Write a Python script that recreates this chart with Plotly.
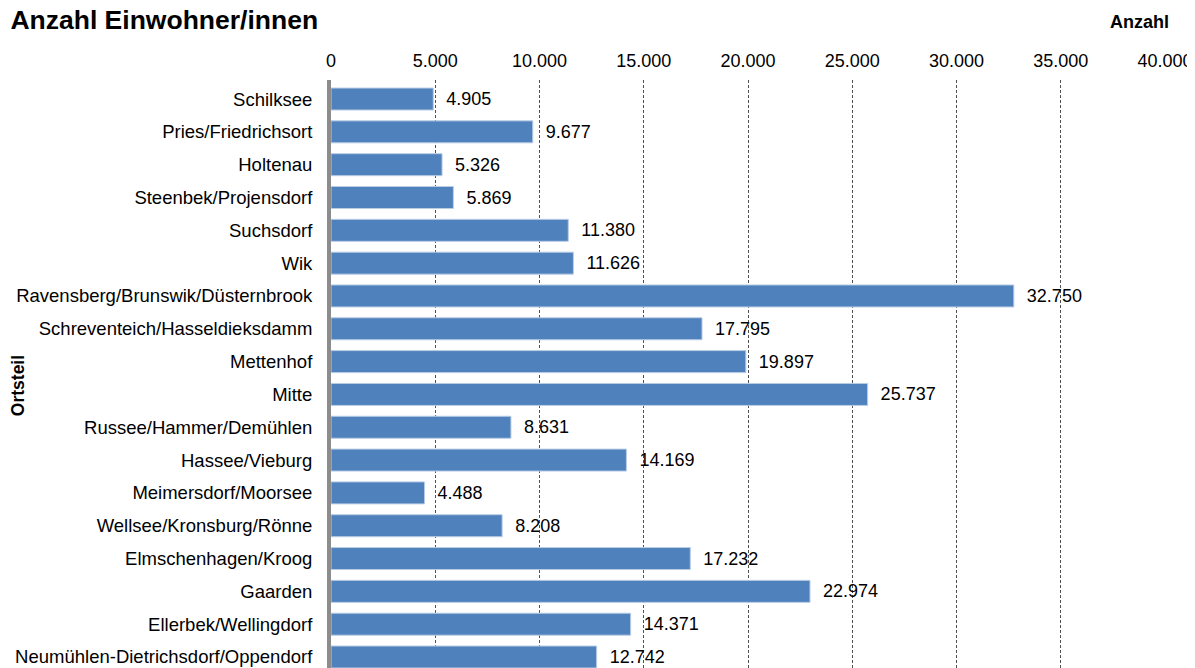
import plotly.graph_objects as go

ortsteile = [
    "Schilksee", "Pries/Friedrichsort", "Holtenau", "Steenbek/Projensdorf",
    "Suchsdorf", "Wik", "Ravensberg/Brunswik/Düsternbrook",
    "Schreventeich/Hasseldieksdamm", "Mettenhof", "Mitte",
    "Russee/Hammer/Demühlen", "Hassee/Vieburg", "Meimersdorf/Moorsee",
    "Wellsee/Kronsburg/Rönne", "Elmschenhagen/Kroog", "Gaarden",
    "Ellerbek/Wellingdorf", "Neumühlen-Dietrichsdorf/Oppendorf",
]
einwohner = [
    4905, 9677, 5326, 5869, 11380, 11626, 32750, 17795, 19897, 25737,
    8631, 14169, 4488, 8208, 17232, 22974, 14371, 12742,
]
x_ticks = [0, 5000, 10000, 15000, 20000, 25000, 30000, 35000, 40000]

FONT = "Liberation Sans, Arial, sans-serif"

fig = go.Figure()

fig.add_trace(go.Bar(
    x=einwohner, y=ortsteile,
    orientation="h",
    marker=dict(color="#4f81bd", line=dict(color="#b9cde5", width=1)),
    texttemplate="\u00a0\u00a0%{x:,.0f}",
    textposition="outside",
    textfont=dict(size=18, color="#000000", family=FONT),
    cliponaxis=False,
    width=0.67,
))

# the page puts the figure 8px in from the top-left corner
fig.update_layout(
    width=1195, height=668,
    margin=dict(l=323, r=38, t=72, b=8, autoexpand=False),
    plot_bgcolor="white",
    paper_bgcolor="white",
    separators=",.",
    showlegend=False,
    font=dict(family=FONT, color="#000000"),
    title=dict(
        text="<b>Anzahl Einwohner/innen</b>",
        x=0.002, xanchor="left", xref="container",
        y=1 - 12 / 668, yanchor="middle", yref="container",
        font=dict(size=26.5, family=FONT, color="#000000"),
    ),
    xaxis=dict(
        side="top",
        range=[0, 40000],
        tickvals=x_ticks,
        tickformat=",.0f",
        tickfont=dict(size=18),
        showgrid=True,
        gridcolor="#505050",
        griddash="3px,2px",
        gridwidth=1,
        zeroline=False,
        showline=False,
        ticks="",
        ticklabelstandoff=8,
        automargin=False,
    ),
    yaxis=dict(
        range=[17.335, -0.58],
        tickfont=dict(size=18.5),
        showgrid=False,
        zeroline=False,
        showline=True,
        linecolor="#8c8c8c",
        linewidth=4,
        ticks="outside",
        ticklen=11,
        tickcolor="rgba(0,0,0,0)",
        automargin=False,
    ),
    annotations=[
        dict(
            text="<b>Anzahl</b>", xref="paper", yref="paper",
            x=1.007, y=1.099, xanchor="right", yanchor="middle",
            showarrow=False, font=dict(size=18, family=FONT),
        ),
        dict(
            text="<b>Ortsteil</b>", xref="paper", yref="paper",
            x=-0.376, y=0.48, xanchor="center", yanchor="middle",
            textangle=-90, showarrow=False, font=dict(size=17.5, family=FONT),
        ),
    ],
)

fig.write_html("out.html")
